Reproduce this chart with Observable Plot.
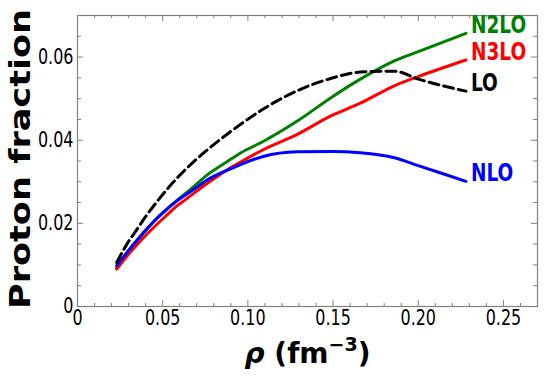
<!DOCTYPE html>
<html>
<head>
<meta charset="utf-8">
<script src="https://cdn.jsdelivr.net/npm/d3@7"></script>
<script src="https://cdn.jsdelivr.net/npm/@observablehq/plot@0.6"></script>
<style>
  html, body { margin: 0; padding: 0; background: white; }
</style>
</head>
<body>
<div id="chart"></div>
<script>
// Density grid (fm^-3)
const rho = [0.023, 0.029, 0.035, 0.041, 0.047, 0.053, 0.058, 0.064, 0.070, 0.076,
             0.082, 0.088, 0.096, 0.109, 0.129, 0.149, 0.166, 0.186, 0.200, 0.228];
// Proton fraction per order
const fracLO   = [0.0106, 0.0150, 0.0186, 0.0222, 0.0254, 0.0284, 0.0307, 0.0332, 0.0355, 0.0376,
                  0.0396, 0.0415, 0.0439, 0.0475, 0.0519, 0.0549, 0.0564, 0.0566, 0.0547, 0.0518];
const fracNLO  = [0.0098, 0.0130, 0.0160, 0.0188, 0.0214, 0.0236, 0.0253, 0.0270, 0.0287, 0.0304,
                  0.0317, 0.0328, 0.0342, 0.0361, 0.0372, 0.0373, 0.0370, 0.0358, 0.0339, 0.0301];
const fracN2LO = [0.0094, 0.0128, 0.0158, 0.0187, 0.0213, 0.0236, 0.0254, 0.0274, 0.0295, 0.0316,
                  0.0333, 0.0349, 0.0370, 0.0397, 0.0446, 0.0503, 0.0547, 0.0591, 0.0613, 0.0657];
const fracN3LO = [0.0090, 0.0121, 0.0149, 0.0175, 0.0199, 0.0222, 0.0241, 0.0259, 0.0278, 0.0296,
                  0.0313, 0.0329, 0.0348, 0.0377, 0.0414, 0.0459, 0.0489, 0.0531, 0.0553, 0.0593];

const seriesNames  = ["N2LO", "N3LO", "NLO", "LO"];
const seriesValues = [fracN2LO, fracN3LO, fracNLO, fracLO];
const seriesColors = ["#008000", "#ff0000", "#0000ff", "#000000"];

// Axis ticks
const xMajor = [0, 0.05, 0.10, 0.15, 0.20, 0.25];
const xMajorLabels = ["0", "0.05", "0.10", "0.15", "0.20", "0.25"];
const xMinor = [0.01, 0.02, 0.03, 0.04, 0.06, 0.07, 0.08, 0.09, 0.11, 0.12, 0.13, 0.14,
                0.16, 0.17, 0.18, 0.19, 0.21, 0.22, 0.23, 0.24, 0.26];
const yMajor = [0, 0.02, 0.04, 0.06];
const yMajorLabels = ["0", "0.02", "0.04", "0.06"];
const yMinor = [0.005, 0.01, 0.015, 0.025, 0.03, 0.035, 0.045, 0.05, 0.055, 0.065];

const W = 550, H = 385;
const mL = 77, mR = 13, mT = 15, mB = 79;
const pW = W - mL - mR, pH = H - mT - mB;

const rows = [];
seriesNames.forEach((name, s) => {
  rho.forEach((r, i) => rows.push({series: name, rho: r, frac: seriesValues[s][i]}));
});
const ends = seriesNames.map((name, s) => ({series: name, rho: rho[rho.length - 1], frac: seriesValues[s][rho.length - 1], color: seriesColors[s]}));

const font = '"DejaVu Sans", sans-serif';
const frameColor = "#808080";

const lineMarks = seriesNames.map((name, s) =>
  Plot.line(rows.filter(d => d.series === name), {
    x: "rho", y: "frac", stroke: seriesColors[s], strokeWidth: 3,
    strokeDasharray: name === "LO" ? "10,5" : null, curve: "monotone-x"
  })
);

const chart = Plot.plot({
  width: W, height: H,
  marginLeft: mL, marginRight: mR, marginTop: mT, marginBottom: mB,
  x: {domain: [0, 0.27]},
  y: {domain: [0, 0.07]},
  style: {background: "white", color: "black"},
  marks: [
    // inward ticks
    Plot.ruleX(xMajor, {stroke: frameColor, insetTop: pH - 6}),
    Plot.ruleX(xMinor, {stroke: frameColor, insetTop: pH - 3}),
    Plot.ruleX(xMajor, {stroke: frameColor, insetBottom: pH - 6}),
    Plot.ruleX(xMinor, {stroke: frameColor, insetBottom: pH - 3}),
    Plot.ruleY(yMajor, {stroke: frameColor, insetRight: pW - 6}),
    Plot.ruleY(yMinor, {stroke: frameColor, insetRight: pW - 4}),
    Plot.ruleY(yMajor, {stroke: frameColor, insetLeft: pW - 6}),
    Plot.ruleY(yMinor, {stroke: frameColor, insetLeft: pW - 4}),
    Plot.frame({stroke: frameColor, strokeWidth: 1.2}),
    Plot.axisX({ticks: xMajor, tickSize: 0, tickPadding: 4, label: null,
      tickFormat: d => xMajorLabels[xMajor.findIndex(v => Math.abs(v - d) < 1e-9)],
      fontSize: 21, fontFamily: font}),
    Plot.axisY({ticks: yMajor, tickSize: 0, tickPadding: 4, label: null,
      tickFormat: d => yMajorLabels[yMajor.findIndex(v => Math.abs(v - d) < 1e-9)],
      fontSize: 21, fontFamily: font}),
    ...lineMarks,
    Plot.text(ends, {x: "rho", y: "frac", text: "series", fill: "color",
      dx: 5, dy: -8, textAnchor: "start", fontSize: 25, fontWeight: "bold",
      fontFamily: font}),
    Plot.text(["Proton fraction"], {frameAnchor: "left", textAnchor: "middle", dx: -57, dy: -2, rotate: -90,
      fontSize: 29, fontWeight: "bold", fontFamily: font}),
    Plot.text(["RHOLABEL"], {frameAnchor: "bottom", textAnchor: "middle", dy: 56,
      fontSize: 28, fontWeight: "bold", fontFamily: font})
  ]
});

document.getElementById("chart").appendChild(chart);

const svg = d3.select(chart);
svg.selectAll("text").filter(function() { return this.textContent === "RHOLABEL"; })
  .each(function() {
    const t = d3.select(this);
    t.text(null);
    t.append("tspan").attr("font-style", "italic").text("ρ");
    t.append("tspan").text(" (fm");
    t.append("tspan").attr("dy", -12).attr("font-size", 19).text("−3");
    t.append("tspan").attr("dy", 12).text(")");
  });
svg.selectAll("text").filter(function() { return this.textContent === "Proton fraction"; })
  .attr("textLength", 300).attr("lengthAdjust", "spacingAndGlyphs");

// narrow the tick labels
svg.selectAll('g[aria-label="x-axis tick label"] text, g[aria-label="y-axis tick label"] text')
  .each(function() {
    const len = this.getComputedTextLength();
    d3.select(this).attr("textLength", len * 0.76).attr("lengthAdjust", "spacingAndGlyphs");
  });
// narrow the series labels
svg.selectAll("text").filter(function() { return seriesNames.includes(this.textContent); })
  .each(function() {
    const len = this.getComputedTextLength();
    d3.select(this).attr("textLength", len * 0.74).attr("lengthAdjust", "spacingAndGlyphs");
  });
</script>
</body>
</html>
